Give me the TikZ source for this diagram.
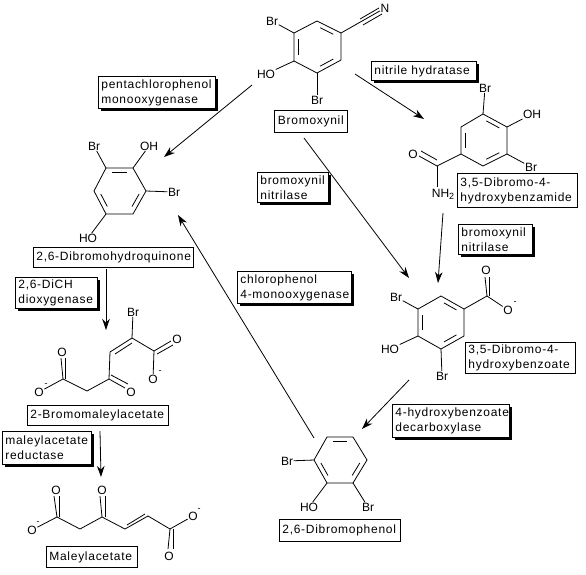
\documentclass[tikz,border=0pt]{standalone}
\usepackage{fontspec}
\setmainfont{Liberation Sans}
\newfontfamily\boxfont[LetterSpace=6]{Liberation Sans}
\usetikzlibrary{arrows.meta,shadows,calc}
\tikzset{
  bond/.style={line width=0.8pt,black},
  rxn/.style={line width=0.8pt,black,-{Stealth[length=11pt,width=7.5pt,inset=3.5pt]}},
  atom/.style={inner sep=0.5pt,font=\fontsize{12}{12}\selectfont},
  lab/.style={draw=black,line width=0.8pt,fill=white,anchor=north west,inner xsep=3pt,inner ysep=2pt,
     align=left,font=\boxfont\fontsize{12}{15}\selectfont},
  enz/.style={lab,drop shadow={shadow xshift=3pt,shadow yshift=-3pt,opacity=1,fill=black}},
}
\newcommand{\dbl}[5][0.16]{%
  \draw[bond] ($(#2)!#1!(#3)!#4!(#5)$) -- ($(#3)!#1!(#2)!#4!(#5)$);}
\begin{document}
\begin{tikzpicture}[x=1pt,y=-1pt]
\useasboundingbox (0,0) rectangle (586,574);

% ===== boxes =====
\node[lab,minimum width=73pt,minimum height=22pt,anchor=north west,align=center] (tBromoxynil) at (274,110) {Bromoxynil};
\node[enz,text width=99pt,minimum height=19pt] (eNH) at (371,61) {\mbox{nitrile hydratase}};
\node[lab,text width=114pt,minimum height=34pt] (tBenzamide) at (457,173) {\mbox{3,5-Dibromo-4-}\\\mbox{hydroxybenzamide}};
\node[enz,text width=65pt,minimum height=30pt] (eBN1) at (257,172) {bromoxynil\\nitrilase};
\node[enz,text width=68pt,minimum height=30pt] (eBN2) at (458,224) {bromoxynil\\nitrilase};
\node[enz,text width=111pt,minimum height=32pt] (ePCP) at (98,76) {pentachlorophenol\\monooxygenase};
\node[lab,text width=154pt,minimum height=20pt] (tDBHQ) at (33,247) {\mbox{2,6-Dibromohydroquinone}};
\node[enz,text width=76pt,minimum height=31pt] (eDiCH) at (15,277) {\mbox{2,6-DiCH}\\dioxygenase};
\node[lab,text width=135pt,minimum height=20pt] (tBMA) at (27,405) {\mbox{2-Bromomaleylacetate}};
\node[enz,text width=83pt,minimum height=33pt] (eMAR) at (2,431) {maleylacetate\\reductase};
\node[lab,text width=85pt,minimum height=21pt] (tMA) at (46,546) {Maleylacetate};
\node[enz,text width=108pt,minimum height=32pt] (eCP) at (237,271) {chlorophenol\\\mbox{4-monooxygenase}};
\node[lab,text width=104pt,minimum height=31pt] (tBenzoate) at (465,342) {\mbox{3,5-Dibromo-4-}\\hydroxybenzoate};
\node[enz,text width=111pt,minimum height=33pt] (eHBD) at (392,404) {\mbox{4-hydroxybenzoate}\\decarboxylase};
\node[lab,text width=115pt,minimum height=22pt] (tDBP) at (279,519) {\mbox{2,6-Dibromophenol}};

% ===== Bromoxynil =====
\coordinate (a1) at (317,21); \coordinate (a2) at (341,33); \coordinate (a3) at (341,60);
\coordinate (a4) at (317,73); \coordinate (a5) at (294,61); \coordinate (a6) at (294,33);
\coordinate (ac) at (317.5,47);
\node[atom] (aBr1) at (272,21) {Br}; \node[atom] (aOH) at (266,74) {HO};
\node[atom] (aBr2) at (317,100) {Br}; \node[atom] (aN) at (385,8) {N};
\draw[bond] (a1)--(a2)--(a3)--(a4)--(a5)--(a6)--cycle;
\dbl{a1}{a2}{0.2}{ac} \dbl{a3}{a4}{0.2}{ac} \dbl{a5}{a6}{0.2}{ac}
\draw[bond] (a6)--(aBr1); \draw[bond] (a5)--(aOH); \draw[bond] (a4)--(aBr2); \draw[bond] (a2)--(aN);
\coordinate (acn1) at (360,19); \coordinate (acn2) at (363,25);
\draw[bond] (acn1)--(379,8); \draw[bond] (acn2)--(382,14);

% ===== 3,5-Dibromo-4-hydroxybenzamide =====
\coordinate (b1) at (483,114); \coordinate (b2) at (507,127); \coordinate (b3) at (507,154);
\coordinate (b4) at (483,166); \coordinate (b5) at (461,154); \coordinate (b6) at (461,127);
\coordinate (bc) at (484,140); \coordinate (bC) at (437,166);
\node[atom] (bBr1) at (485,88) {Br}; \node[atom] (bOH) at (532,114) {OH};
\node[atom] (bBr2) at (531,167) {Br}; \node[atom] (bO) at (413,154) {O};
\node[atom] (bN) at (443,194) {NH\raisebox{-2pt}{\fontsize{9}{9}\selectfont 2}};
\draw[bond] (b1)--(b2)--(b3)--(b4)--(b5)--(b6)--cycle;
\dbl{b1}{b2}{0.2}{bc} \dbl{b3}{b4}{0.2}{bc} \dbl{b5}{b6}{0.2}{bc}
\draw[bond] (b1)--(bBr1); \draw[bond] (b2)--(bOH); \draw[bond] (b3)--(bBr2);
\draw[bond] (b5)--(bC); \draw[bond] (bC)--(437,187);
\draw[bond] (bC)--(419,156); \draw[bond] (437,160)--(421,151);

% ===== 2,6-Dibromohydroquinone =====
\coordinate (c1) at (106,168); \coordinate (c2) at (133,168); \coordinate (c3) at (146,191);
\coordinate (c4) at (133,214); \coordinate (c5) at (106,214); \coordinate (c6) at (94,191);
\coordinate (cc) at (120,191);
\node[atom] (cBr1) at (94,146) {Br}; \node[atom] (cOH) at (149,146) {OH};
\node[atom] (cBr2) at (174,192) {Br}; \node[atom] (cHO) at (88,238) {HO};
\draw[bond] (c1)--(c2)--(c3)--(c4)--(c5)--(c6)--cycle;
\dbl{c1}{c2}{0.2}{cc} \dbl{c3}{c4}{0.2}{cc} \dbl{c5}{c6}{0.2}{cc}
\draw[bond] (c1)--(cBr1); \draw[bond] (c2)--(cOH); \draw[bond] (c3)--(cBr2); \draw[bond] (c5)--(cHO);

% ===== 2-Bromomaleylacetate =====
\coordinate (d1) at (63,379); \coordinate (d2) at (87,391); \coordinate (d3) at (109,379);
\coordinate (d4) at (110,352); \coordinate (d5) at (132,338); \coordinate (d6) at (154,351);
\node[atom] (dBr) at (133,312) {Br}; \node[atom] (dO1) at (62,352) {O};
\node[atom] (dO2) at (39,392) {O}; \node[atom] (dO3) at (131,392) {O};
\node[atom] (dO4) at (177,339) {O}; \node[atom] (dO5) at (153,379) {O};
\node[atom,font=\fontsize{9}{9}\selectfont] (dm1) at (46,385) {-};
\node[atom,font=\fontsize{9}{9}\selectfont] (dm2) at (160,372) {-};
\draw[bond] (dO2)--(d1)--(d2)--(d3)--(d4)--(d5)--(d6)--(dO5);
\draw[bond] (d5)--(dBr);
\draw[bond] (d1)--(61,358); \draw[bond] (65,379)--(65,358);
\draw[bond] (d3)--(125,388); \draw[bond] (111,375)--(128,384);
\draw[bond] (d6)--(171,341); \draw[bond] (157,354)--(173,345);
\draw[bond] (115,354)--(132,343);

% ===== Maleylacetate =====
\coordinate (e1) at (57,517); \coordinate (e2) at (80,529); \coordinate (e3) at (102,517);
\coordinate (e4) at (125,529); \coordinate (e5) at (148,516); \coordinate (e6) at (170,529);
\node[atom] (eO1) at (56,490) {O}; \node[atom] (eO2) at (32,530) {O};
\node[atom] (eO3) at (102,490) {O}; \node[atom] (eO4) at (193,516) {O};
\node[atom] (eO5) at (169,556) {O};
\node[atom,font=\fontsize{9}{9}\selectfont] (em1) at (38,523) {-};
\node[atom,font=\fontsize{9}{9}\selectfont] (em2) at (199,510) {-};
\draw[bond] (eO2)--(e1)--(e2)--(e3)--(e4)--(e5)--(e6)--(eO4);
\draw[bond] (e1)--(54,496); \draw[bond] (59,517)--(59,496);
\draw[bond] (e3)--(100,496); \draw[bond] (105,517)--(105,496);
\draw[bond] (e6)--(168,549); \draw[bond] (173,529)--(173,549);
\draw[bond] (127,525)--(145,514);

% ===== 3,5-Dibromo-4-hydroxybenzoate =====
\coordinate (f1) at (441,296); \coordinate (f2) at (464,309); \coordinate (f3) at (464,336);
\coordinate (f4) at (441,349); \coordinate (f5) at (418,336); \coordinate (f6) at (418,309);
\coordinate (fc) at (441,322); \coordinate (fC) at (487,296);
\node[atom] (fBr1) at (396,297) {Br}; \node[atom] (fHO) at (390,349) {HO};
\node[atom] (fBr2) at (442,376) {Br}; \node[atom] (fO1) at (486,270) {O};
\node[atom] (fO2) at (508,310) {O};
\node[atom,font=\fontsize{9}{9}\selectfont] (fm) at (515,303) {-};
\draw[bond] (f1)--(f2)--(f3)--(f4)--(f5)--(f6)--cycle;
\dbl{f1}{f2}{0.2}{fc} \dbl{f3}{f4}{0.2}{fc} \dbl{f5}{f6}{0.2}{fc}
\draw[bond] (f6)--(fBr1); \draw[bond] (f5)--(fHO); \draw[bond] (f4)--(fBr2);
\draw[bond] (f2)--(fC); \draw[bond] (fC)--(fO2);
\draw[bond] (fC)--(485,277); \draw[bond] (489.5,296)--(489.5,277);

% ===== 2,6-Dibromophenol =====
\coordinate (g1) at (327,437); \coordinate (g2) at (353,437); \coordinate (g3) at (367,460);
\coordinate (g4) at (353,483); \coordinate (g5) at (327,483); \coordinate (g6) at (314,460);
\coordinate (gc) at (340,460);
\node[atom] (gBr1) at (287,461) {Br}; \node[atom] (gHO) at (309,507) {HO}; \node[atom] (gBr2) at (368,507) {Br};
\draw[bond] (g1)--(g2)--(g3)--(g4)--(g5)--(g6)--cycle;
\dbl{g1}{g2}{0.2}{gc} \dbl{g3}{g4}{0.2}{gc} \dbl{g5}{g6}{0.2}{gc}
\draw[bond] (g6)--(gBr1); \draw[bond] (g5)--(gHO); \draw[bond] (g4)--(gBr2);

% ===== reaction arrows =====
\coordinate (r1s) at (355,74);  \coordinate (r1t) at (424,119);
\coordinate (r2s) at (304,138); \coordinate (r2t) at (409,278);
\coordinate (r3s) at (443,213); \coordinate (r3t) at (438,283);
\coordinate (r4s) at (252,85);  \coordinate (r4t) at (164,157);
\coordinate (r5s) at (106,269); \coordinate (r5t) at (106,330);
\coordinate (r6s) at (100,431); \coordinate (r6t) at (101,477);
\coordinate (r7s) at (409,380); \coordinate (r7t) at (362,429);
\coordinate (r8s) at (314,438); \coordinate (r8t) at (178,215);
\foreach \i in {1,...,8} \draw[rxn] (r\i s) -- (r\i t);
\end{tikzpicture}
\end{document}
